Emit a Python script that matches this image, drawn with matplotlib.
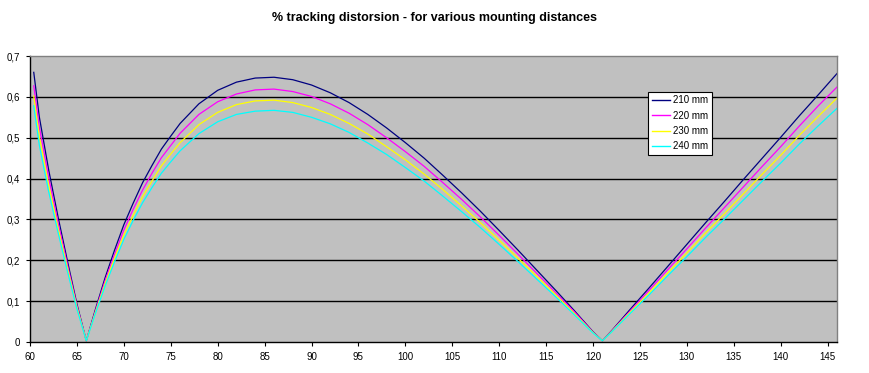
import numpy as np
import matplotlib
matplotlib.use('Agg')
import matplotlib.pyplot as plt

plt.rcParams['font.family'] = ['Liberation Sans', 'DejaVu Sans']

# radius (mm) and % distortion per mounting distance
radius = [60.4, 61, 62, 63, 64, 65, 66, 67, 68, 69, 70, 71, 72, 73, 74, 75, 76, 78, 80, 82, 84,
          86, 88, 90, 92, 94, 96, 98, 100, 102, 104, 106, 108, 110, 112, 114, 116, 118, 120,
          121, 122, 124, 126, 128, 130, 132, 134, 136, 138, 140, 142, 144, 146]

d210 = [0.660, 0.550, 0.420, 0.305, 0.197, 0.093, 0.003, 0.082, 0.157, 0.224, 0.287, 0.340,
        0.390, 0.432, 0.472, 0.504, 0.535, 0.583, 0.616, 0.636, 0.646, 0.648, 0.642, 0.629,
        0.610, 0.586, 0.557, 0.524, 0.488, 0.450, 0.408, 0.365, 0.320, 0.273, 0.225, 0.176,
        0.127, 0.077, 0.025, 0.003, 0.028, 0.081, 0.133, 0.186, 0.239, 0.292, 0.344, 0.397,
        0.449, 0.501, 0.554, 0.605, 0.657]
d220 = [0.627, 0.525, 0.401, 0.291, 0.188, 0.089, 0.003, 0.078, 0.150, 0.214, 0.274, 0.325,
        0.372, 0.413, 0.451, 0.481, 0.511, 0.557, 0.588, 0.607, 0.617, 0.619, 0.613, 0.601,
        0.583, 0.560, 0.532, 0.500, 0.466, 0.430, 0.390, 0.349, 0.306, 0.261, 0.215, 0.168,
        0.121, 0.074, 0.024, 0.003, 0.027, 0.077, 0.127, 0.178, 0.228, 0.279, 0.329, 0.379,
        0.429, 0.478, 0.529, 0.578, 0.624]
d230 = [0.602, 0.502, 0.383, 0.278, 0.180, 0.085, 0.003, 0.075, 0.143, 0.205, 0.262, 0.310,
        0.356, 0.394, 0.431, 0.460, 0.488, 0.532, 0.562, 0.581, 0.590, 0.592, 0.586, 0.574,
        0.557, 0.535, 0.509, 0.478, 0.446, 0.411, 0.373, 0.333, 0.292, 0.249, 0.205, 0.161,
        0.116, 0.070, 0.023, 0.003, 0.026, 0.074, 0.121, 0.170, 0.218, 0.267, 0.314, 0.362,
        0.410, 0.457, 0.506, 0.552, 0.597]
d240 = [0.578, 0.481, 0.367, 0.267, 0.172, 0.081, 0.003, 0.072, 0.137, 0.196, 0.251, 0.298,
        0.341, 0.378, 0.413, 0.441, 0.468, 0.510, 0.539, 0.557, 0.565, 0.567, 0.562, 0.550,
        0.534, 0.513, 0.487, 0.459, 0.427, 0.394, 0.357, 0.319, 0.280, 0.239, 0.197, 0.154,
        0.111, 0.067, 0.022, 0.003, 0.025, 0.071, 0.116, 0.163, 0.209, 0.256, 0.301, 0.347,
        0.393, 0.438, 0.485, 0.529, 0.572]

series = [('210 mm', d210, '#000080'),
          ('220 mm', d220, '#FF00FF'),
          ('230 mm', d230, '#FFFF00'),
          ('240 mm', d240, '#00FFFF')]

xticks = list(range(60, 146, 5))
yticks = [0, 0.1, 0.2, 0.3, 0.4, 0.5, 0.6, 0.7]
ylabels = ['0', '0,1', '0,2', '0,3', '0,4', '0,5', '0,6', '0,7']

fig = plt.figure(figsize=(8.7, 3.73), dpi=100)
ax = fig.add_axes([30/870, 1-342/373, 807/870, 286/373])
ax.set_facecolor('#C0C0C0')

for y in yticks[1:-1]:
    ax.axhline(y, color='black', lw=1.0, zorder=1)

for label, vals, col in series:
    ax.plot(radius, vals, color=col, lw=0.9, label=label, zorder=2)

ax.set_xlim(60, 146)
ax.set_ylim(0, 0.7)
ax.set_xticks(xticks)
ax.set_yticks(yticks)
ax.set_yticklabels(ylabels)
ax.tick_params(labelsize=7, length=3, width=0.8, colors='black', pad=4)
ax.tick_params(axis='x', pad=4)

for s in ['left', 'bottom']:
    ax.spines[s].set_color('black')
    ax.spines[s].set_linewidth(1.0)
for s in ['top', 'right']:
    ax.spines[s].set_color('#808080')
    ax.spines[s].set_linewidth(1.0)

leg = ax.legend(loc='upper left', bbox_to_anchor=(0.766, 0.874), fontsize=7,
                frameon=True, fancybox=False, framealpha=1, edgecolor='black',
                borderpad=0.35, handlelength=1.9, handletextpad=0.35, labelspacing=0.55,
                borderaxespad=0)
leg.get_frame().set_linewidth(0.8)
for line in leg.get_lines():
    line.set_linewidth(1.0)

fig.suptitle('% tracking distorsion - for various mounting distances',
             fontsize=9, fontweight='bold', y=1-18/373, va='center')

fig.savefig('out.png', dpi=100, facecolor='white')
